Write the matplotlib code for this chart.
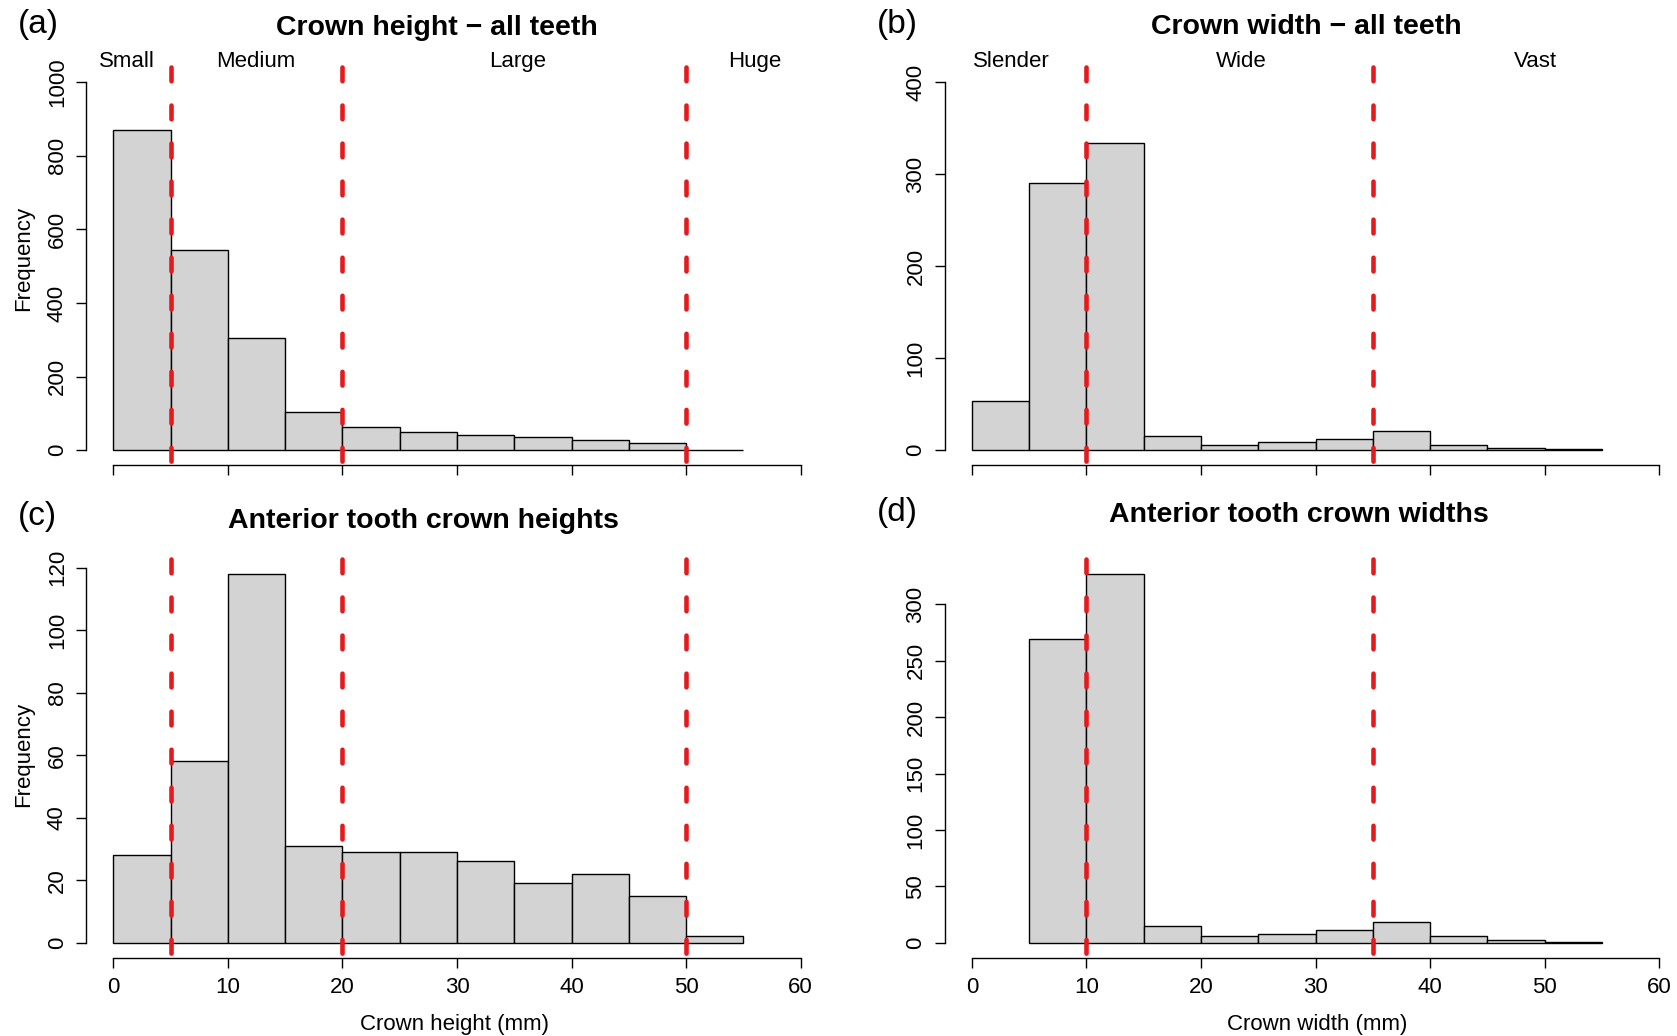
import matplotlib
matplotlib.use("Agg")
import matplotlib.pyplot as plt
import matplotlib.transforms as mtransforms
import numpy as np

plt.rcParams['font.family'] = ['Liberation Sans', 'DejaVu Sans']

# ---- data -------------------------------------------------------------
bin_edges = [0, 5, 10, 15, 20, 25, 30, 35, 40, 45, 50, 55]
height_all = [870, 545, 305, 104, 62, 50, 41, 37, 29, 21, 2]
width_all = [53, 290, 334, 15, 6, 9, 12, 21, 6, 3, 1]
height_anterior = [28, 58, 118, 31, 29, 29, 26, 19, 22, 15, 2]
width_anterior = [0, 269, 327, 15, 6, 8, 11, 18, 6, 2, 1]

height_cutoffs = [5, 20, 50]
width_cutoffs = [10, 35]
height_classes = ["Small", "Medium", "Large", "Huge"]
width_classes = ["Slender", "Wide", "Vast"]

titles = ["Crown height \u2212 all teeth", "Crown width \u2212 all teeth",
          "Anterior tooth crown heights", "Anterior tooth crown widths"]
panel_tags = ["(a)", "(b)", "(c)", "(d)"]
x_labels = ["Crown height (mm)", "Crown width (mm)"]
x_ticks = [0, 10, 20, 30, 40, 50, 60]

# ---- layout (pixels) --------------------------------------------------
W, H = 1677, 1036
fig = plt.figure(figsize=(W / 100, H / 100), dpi=100)


def rect(left, top, width, height):
    return [left / W, 1 - (top + height) / H, width / W, height / H]


def fx(x):
    return x / W


def fy(y):
    return 1 - y / H


RED = '#E41A1C'
FILL = '#D3D3D3'


def draw(ax, counts, top, yticks, cutoffs, tick_labels):
    counts = np.asarray(counts)
    lefts = np.asarray(bin_edges[:-1])
    keep = counts > 0
    ax.bar(lefts[keep], counts[keep], width=5, align='edge', color=FILL,
           edgecolor='black', linewidth=1.0, zorder=2)
    ax.set_xlim(-2.4, 62.4)
    ax.set_ylim(-0.04 * top, 1.04 * top)
    for s in ['top', 'right']:
        ax.spines[s].set_visible(False)
    ax.spines['left'].set_bounds(0, yticks[-1])
    ax.spines['bottom'].set_bounds(0, 60)
    for s in ['left', 'bottom']:
        ax.spines[s].set_linewidth(1.0)
    ax.set_yticks(yticks)
    ax.set_xticks(x_ticks)
    ax.tick_params(axis='both', direction='out', length=7.2, width=1.0,
                   labelsize=16)
    ax.tick_params(axis='y', pad=5.8)
    ax.tick_params(axis='x', pad=6.5)
    for lab in ax.get_yticklabels():
        lab.set_rotation(90)
        lab.set_va('center')
    if not tick_labels:
        ax.set_xticklabels([])
    for x in cutoffs:
        ax.plot([x, x], [1.04 * top, -0.04 * top], color=RED, lw=3.3,
                linestyle=(0, (3.0, 5.3)), dash_capstyle='round',
                clip_on=False, zorder=3)


ax_a = fig.add_axes(rect(86, 67.3, 742, 397.7))
ax_b = fig.add_axes(rect(944.5, 67.3, 742, 397.7))
ax_c = fig.add_axes(rect(86, 559.2, 742, 398.3))
ax_d = fig.add_axes(rect(944.5, 559.2, 742, 398.3))

draw(ax_a, height_all, 1000, [0, 200, 400, 600, 800, 1000], height_cutoffs, False)
draw(ax_b, width_all, 400, [0, 100, 200, 300, 400], width_cutoffs, False)
draw(ax_c, height_anterior, max(height_anterior), [0, 20, 40, 60, 80, 100, 120],
     height_cutoffs, True)
draw(ax_d, width_anterior, max(width_anterior), [0, 50, 100, 150, 200, 250, 300],
     width_cutoffs, True)

# size class names above the top panels
class_x_height = [1.14, 12.4, 35.3, 56.0]
class_x_width = [3.4, 23.5, 49.2]
for ax, names, xs in [(ax_a, height_classes, class_x_height),
                      (ax_b, width_classes, class_x_width)]:
    tr = mtransforms.blended_transform_factory(ax.transData, ax.transAxes)
    for name, x in zip(names, xs):
        ax.text(x, 1.002, name, transform=tr, ha='center', va='baseline',
                fontsize=16)

# titles and panel tags
title_pos = [(437, 35), (1306, 34), (423, 527.5), (1299, 521.5)]
tag_pos = [(18, 33), (877, 33), (18, 525.5), (877, 521)]
for t, (x, y) in zip(titles, title_pos):
    fig.text(fx(x), fy(y), t, ha='center', va='baseline', fontsize=20.5,
             fontweight='bold')
for t, (x, y) in zip(panel_tags, tag_pos):
    fig.text(fx(x), fy(y), t, ha='left', va='baseline', fontsize=24)

# axis titles
fig.text(fx(24), fy(258), "Frequency", rotation=90, ha='center',
         va='center', fontsize=16)
fig.text(fx(24), fy(754.5), "Frequency", rotation=90, ha='center',
         va='center', fontsize=16)
fig.text(fx(455), fy(1030), x_labels[0], ha='center', va='baseline',
         fontsize=16)
fig.text(fx(1317.6), fy(1030), x_labels[1], ha='center', va='baseline',
         fontsize=16)

fig.savefig("out.png", dpi=100)
